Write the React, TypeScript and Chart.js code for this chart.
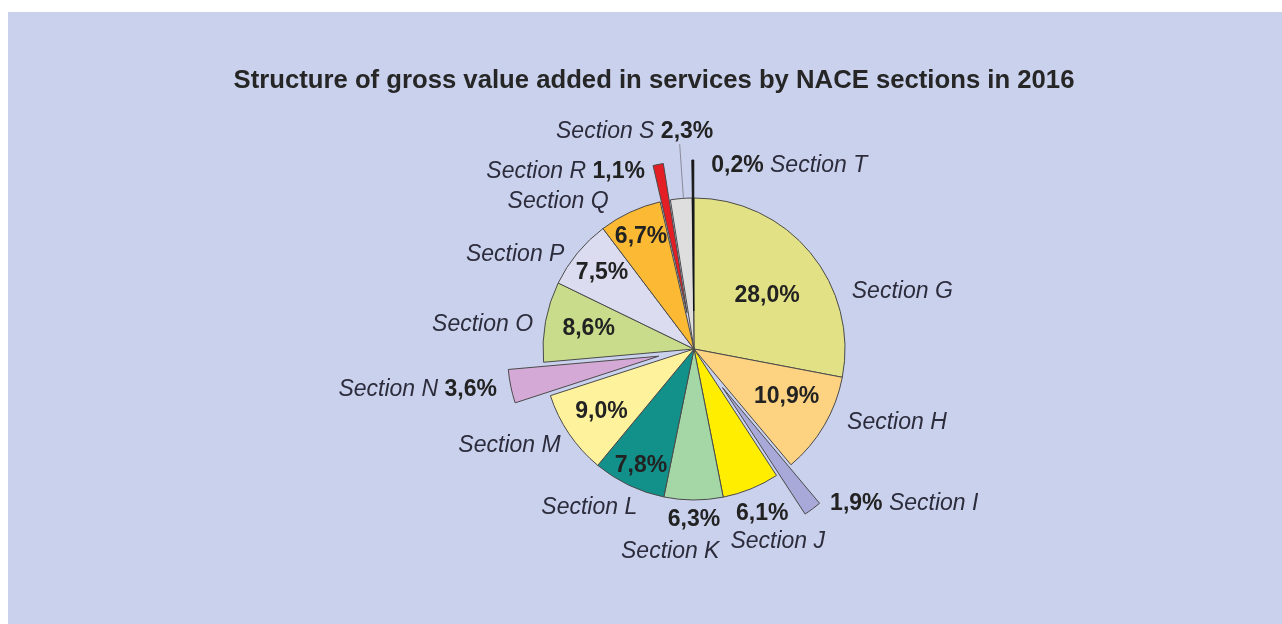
import React, { useEffect, useRef } from "react";
import { Chart, registerables } from "chart.js";

Chart.register(...registerables);

const TITLE = "Structure of gross value added in services by NACE sections in 2016";

const SECTIONS = [
  "Section G", "Section H", "Section I", "Section J", "Section K", "Section L", "Section M",
  "Section N", "Section O", "Section P", "Section Q", "Section R", "Section S", "Section T",
];

const SHARES = [28.0, 10.9, 1.9, 6.1, 6.3, 7.8, 9.0, 3.6, 8.6, 7.5, 6.7, 1.1, 2.3, 0.2];

const COLORS = [
  "#e2e185", "#fdd281", "#a9a9d9", "#ffee00", "#a4d6a6", "#12918a", "#fff29c",
  "#d5a9d6", "#c8dc8c", "#dcdcf0", "#fbb934", "#e31e24", "#dedede", "#1a1a1a",
];

const BORDERS = [
  "#4a4a4a", "#4a4a4a", "#4a4a4a", "#4a4a4a", "#4a4a4a", "#4a4a4a", "#4a4a4a",
  "#4a4a4a", "#4a4a4a", "#4a4a4a", "#4a4a4a", "#4a4a4a", "#4a4a4a", "#111111",
];

// exploded slices: distance (px) each slice is pulled out from the centre
const EXPLODE = [0, 0, 48, 0, 0, 0, 0, 36, 0, 0, 0, 37, 0, 38];

// label layout: slice index, content (v = value, n = name), polar angle (deg, clockwise from top), radius factor
type LabelSpec = { i: number; parts: "v" | "n" | "vn" | "nv"; ang: number; r: number };
const LABEL_LAYOUT: LabelSpec[] = [
  { i: 0, parts: "v", ang: 53.7, r: 0.6 },
  { i: 0, parts: "n", ang: 74.7, r: 1.43 },
  { i: 1, parts: "v", ang: 117.3, r: 0.69 },
  { i: 1, parts: "n", ang: 110, r: 1.43 },
  { i: 2, parts: "vn", ang: 126.4, r: 1.73 },
  { i: 3, parts: "v", ang: 157.5, r: 1.18 },
  { i: 3, parts: "n", ang: 156.5, r: 1.39 },
  { i: 4, parts: "v", ang: 180, r: 1.13 },
  { i: 4, parts: "n", ang: 186.7, r: 1.35 },
  { i: 5, parts: "v", ang: 204.4, r: 0.85 },
  { i: 5, parts: "n", ang: 213.4, r: 1.26 },
  { i: 6, parts: "v", ang: 235.9, r: 0.74 },
  { i: 6, parts: "n", ang: 242.3, r: 1.38 },
  { i: 7, parts: "nv", ang: 261.6, r: 1.85 },
  { i: 8, parts: "v", ang: 280.7, r: 0.71 },
  { i: 8, parts: "n", ang: 276.7, r: 1.41 },
  { i: 9, parts: "v", ang: 309.6, r: 0.79 },
  { i: 9, parts: "n", ang: 297.9, r: 1.34 },
  { i: 10, parts: "v", ang: 334.7, r: 0.82 },
  { i: 10, parts: "n", ang: 317.4, r: 1.33 },
  { i: 11, parts: "nv", ang: 324.1, r: 1.45 },
  { i: 12, parts: "nv", ang: 344.7, r: 1.49 },
  { i: 13, parts: "vn", ang: 27.4, r: 1.37 },
];

const fmt = (v: number) => v.toFixed(1).replace(".", ",") + "%";

const FONT_FAMILY = "'Liberation Sans', Arial, Helvetica, sans-serif";
const NAME_FONT = `italic 23px ${FONT_FAMILY}`;
const VALUE_FONT = `bold 23px ${FONT_FAMILY}`;
const NAME_COLOR = "#2c2c3c";
const VALUE_COLOR = "#222222";

// pull exploded arcs outward along their mid-angle (keeps their radius)
const explodePlugin = {
  id: "explodeSlices",
  afterDatasetUpdate(chart: any, args: any) {
    const meta = chart.getDatasetMeta(args.index);
    meta.data.forEach((arc: any, i: number) => {
      const d = EXPLODE[i] || 0;
      if (!d) return;
      const mid = (arc.startAngle + arc.endAngle) / 2;
      arc.x += Math.cos(mid) * d;
      arc.y += Math.sin(mid) * d;
    });
  },
};

const labelPlugin = {
  id: "pieLabels",
  afterDatasetsDraw(chart: any) {
    const ctx: CanvasRenderingContext2D = chart.ctx;
    const arc: any = chart.getDatasetMeta(0).data[0];
    if (!arc) return;
    const cx = arc.x;
    const cy = arc.y;
    const R = arc.outerRadius;
    const pt = (angDeg: number, rf: number) => {
      const a = (angDeg * Math.PI) / 180;
      return { x: cx + Math.sin(a) * rf * R, y: cy - Math.cos(a) * rf * R };
    };

    ctx.save();
    // title
    ctx.font = `bold 25.7px ${FONT_FAMILY}`;
    ctx.fillStyle = "#262626";
    ctx.textAlign = "center";
    ctx.textBaseline = "middle";
    ctx.fillText(TITLE, chart.width / 2 + 9, 69);

    // leader line for section S
    const p1 = pt(356, 1.0);
    const p2 = pt(356, 1.36);
    ctx.strokeStyle = "#8a8a9a";
    ctx.lineWidth = 1;
    ctx.beginPath();
    ctx.moveTo(p1.x, p1.y);
    ctx.lineTo(p2.x, p2.y);
    ctx.stroke();

    ctx.textAlign = "left";
    ctx.textBaseline = "middle";
    for (const spec of LABEL_LAYOUT) {
      const name = SECTIONS[spec.i];
      const val = fmt(SHARES[spec.i]);
      const pieces: { t: string; f: string; c: string }[] = [];
      for (const ch of spec.parts) {
        if (pieces.length) pieces.push({ t: " ", f: NAME_FONT, c: NAME_COLOR });
        if (ch === "n") pieces.push({ t: name, f: NAME_FONT, c: NAME_COLOR });
        else pieces.push({ t: val, f: VALUE_FONT, c: VALUE_COLOR });
      }
      let total = 0;
      const widths = pieces.map((p) => {
        ctx.font = p.f;
        const w = ctx.measureText(p.t).width;
        total += w;
        return w;
      });
      const c = pt(spec.ang, spec.r);
      let x = c.x - total / 2;
      pieces.forEach((p, k) => {
        ctx.font = p.f;
        ctx.fillStyle = p.c;
        ctx.fillText(p.t, x, c.y);
        x += widths[k];
      });
    }
    ctx.restore();
  },
};

export default function App() {
  const canvasRef = useRef<HTMLCanvasElement | null>(null);

  useEffect(() => {
    if (!canvasRef.current) return;
    const chart = new Chart(canvasRef.current, {
      type: "pie",
      data: {
        labels: SECTIONS,
        datasets: [
          {
            data: SHARES,
            backgroundColor: COLORS,
            borderColor: BORDERS,
            borderWidth: 1,
          },
        ],
      },
      options: {
        animation: false,
        responsive: true,
        maintainAspectRatio: false,
        radius: 151,
        layout: { padding: { left: 300, right: 202, top: 162, bottom: 100 } },
        plugins: {
          legend: { display: false },
          tooltip: { enabled: false },
          title: { display: false },
        },
      } as any,
      plugins: [explodePlugin, labelPlugin],
    });
    return () => chart.destroy();
  }, []);

  return (
    <div
      style={{
        position: "absolute",
        left: 8,
        top: 12,
        width: 1274,
        height: 612,
        background: "#c9d1ec",
      }}
    >
      <canvas ref={canvasRef} />
    </div>
  );
}
